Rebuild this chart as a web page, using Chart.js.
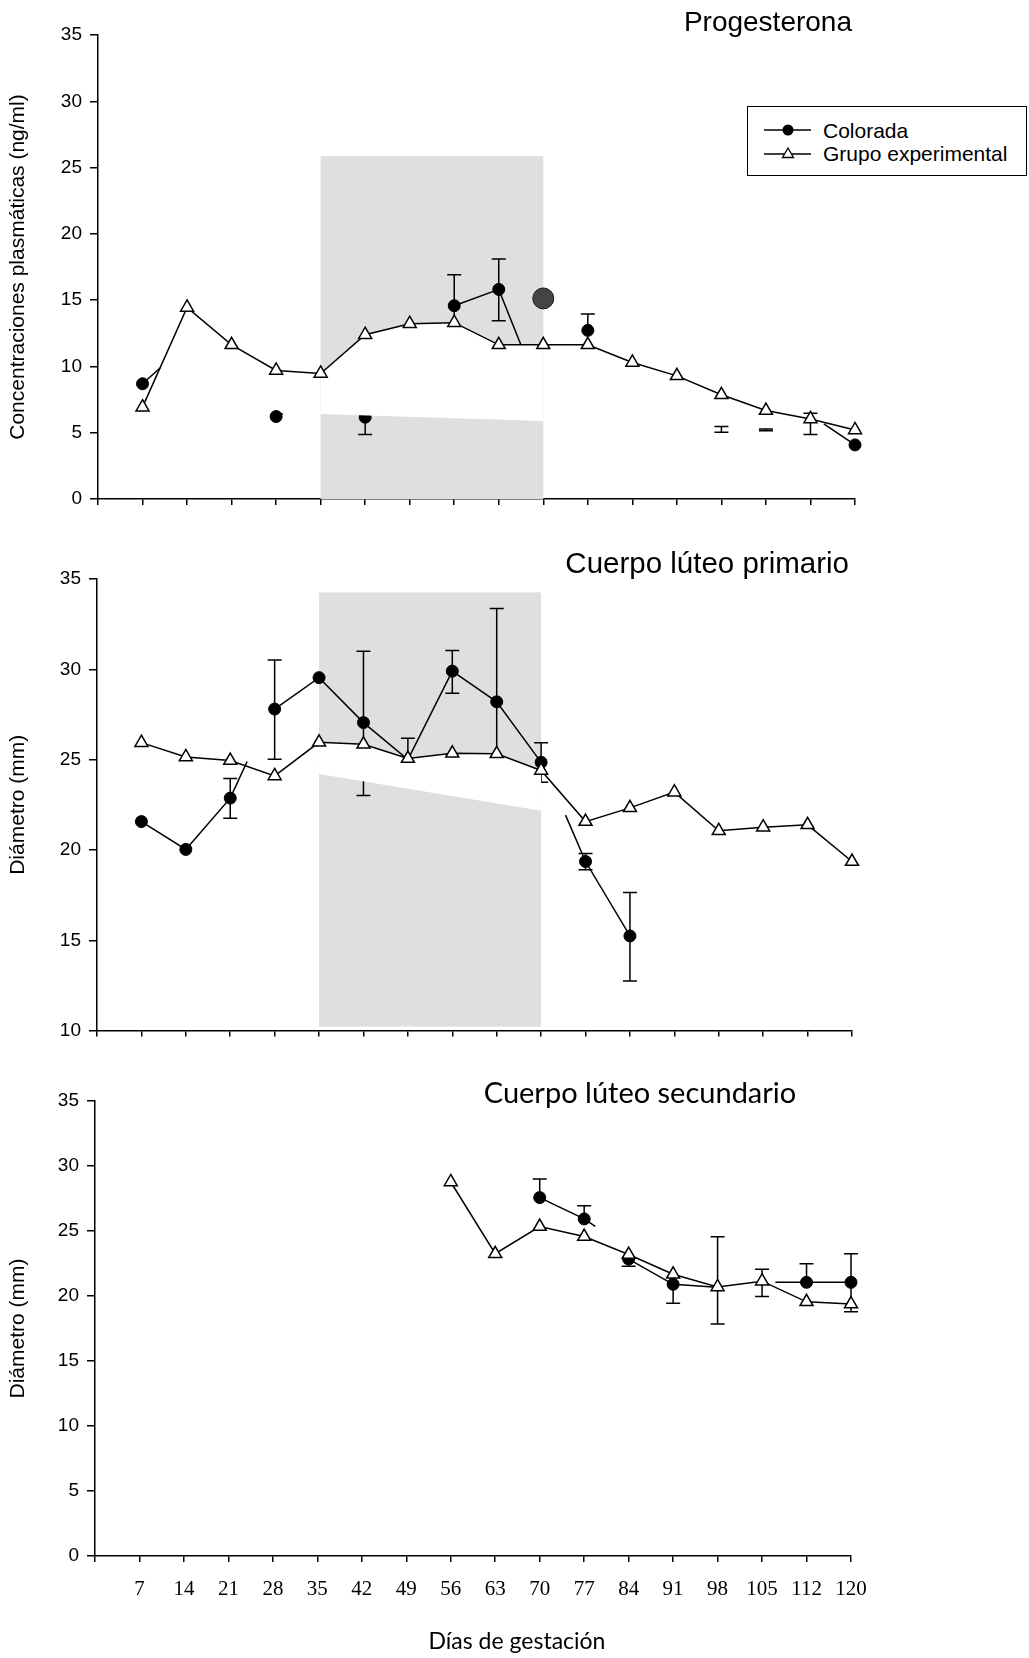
<!DOCTYPE html>
<html lang="es">
<head>
<meta charset="utf-8">
<title>Progesterona y cuerpo lúteo</title>
<script src="https://cdn.jsdelivr.net/npm/chart.js@4.4.1/dist/chart.umd.min.js"></script>
<style>
  body { margin: 0; background: #fff; }
  #hoja { position: relative; width: 1029px; height: 1658px; overflow: hidden; font-family: "Liberation Sans", Arial, sans-serif; color: #000; }
  #hoja canvas { position: absolute; left: 0; }
  .titulo { position: absolute; white-space: nowrap; line-height: 1; }
  #leyenda { position: absolute; left: 747px; top: 106px; width: 280px; height: 70px; box-sizing: border-box; border: 1.5px solid #000; background: #fff; font-size: 21px; }
  #leyenda svg { position: absolute; left: 15px; }
  #leyenda span { position: absolute; left: 75px; line-height: 1; white-space: nowrap; }
</style>
</head>
<body>
<div id="hoja">
  <canvas id="p1" width="1029" height="530" style="top:0"></canvas>
  <canvas id="p2" width="1029" height="520" style="top:530px"></canvas>
  <canvas id="p3" width="1029" height="608" style="top:1050px"></canvas>

  <div class="titulo" style="right:177px; top:8px; font-size:28px;">Progesterona</div>
  <div class="titulo" style="right:180px; top:548px; font-size:29.5px;">Cuerpo lúteo primario</div>
  <div class="titulo" style="left:640px; top:1077px; font-size:29px; font-family:Lato, sans-serif; transform:translateX(-50%);">Cuerpo lúteo secundario</div>
  <div class="titulo" style="left:517px; top:1629px; font-size:23px; font-family:Lato, sans-serif; transform:translateX(-50%);">Días de gestación</div>

  <div id="leyenda">
    <svg width="50" height="14" style="top:16px"><line x1="1" y1="7" x2="48" y2="7" stroke="#000" stroke-width="1.5"/><circle cx="25" cy="7" r="5.5" fill="#000"/></svg>
    <span style="top:13px">Colorada</span>
    <svg width="50" height="14" style="top:39px"><line x1="1" y1="8" x2="48" y2="8" stroke="#000" stroke-width="1.5"/><polygon points="25,2 30.5,11.5 19.5,11.5" fill="#fff" stroke="#000" stroke-width="1.3"/></svg>
    <span style="top:36px">Grupo experimental</span>
  </div>
</div>

<script>
// días de gestación (posición 1..17 en el eje)
const dias = [7, 14, 21, 28, 35, 42, 49, 56, 63, 70, 77, 84, 91, 98, 105, 112, 120];

// --- Progesterona (ng/ml)
const progExperimental = [6.93, 14.45, 11.63, 9.7, 9.47, 12.39, 13.22, 13.3, 11.63, 11.63, 11.63, 10.3, 9.29, 7.86, 6.67, 6.04, 5.21];
const progExpErrBajo   = [null, null, null, null, null, null, null, null, null, null, null, null, null, null, null, 4.86, null];
const progExpErrAlto   = [null, null, null, null, null, null, null, null, null, null, null, null, null, null, null, 6.47, null];
const progColorada     = [8.69, null, null, 6.22, null, 6.17, null, 14.58, 15.81, null, 12.72, null, null, null, null, null, 4.08];
const progColErrBajo   = [null, null, null, null, null, 4.86, null, 12.2, 13.45, null, null, null, null, 5.04, 5.15, null, null];
const progColErrAlto   = [null, null, null, null, null, 7.3, null, 16.92, 18.1, null, 13.95, null, null, 5.46, 5.28, null, null];
const progColTrazo     = [[1, 8.69], [1.4, 9.9], null, [4, 6.22], [4.15, 6.45], null, [8, 14.58], [9, 15.81], [9.9, 8.24], null, [16.3, 5.67], [17, 4.08]];
const progDia70        = [[10, 15.13]];

// --- Cuerpo lúteo primario (mm)
const primExperimental = [25.94, 25.15, 24.95, 24.1, 25.96, 25.85, 25.06, 25.35, 25.32, 24.4, 21.57, 22.33, 23.2, 21.06, 21.26, 21.39, 19.36];
const primColorada     = [21.57, 20.03, 22.87, 27.8, 29.54, 27.05, null, 29.9, 28.2, 24.85, 19.36, 15.24, null, null, null, null, null];
const primColErrBajo   = [null, null, 21.75, 25.02, null, 23.02, 23.85, 28.67, 23.05, 23.75, 18.91, 12.75, null, null, null, null, null];
const primColErrAlto   = [null, null, 23.95, 30.52, null, 31.0, 26.18, 31.04, 33.36, 25.94, 19.8, 17.65, null, null, null, null, null];
const primColTrazo     = [[1, 21.57], [2, 20.03], [3, 22.87], [3.38, 24.9], null, [4, 27.8], [5, 29.54], [6, 27.05], [7, 25.0], [8, 29.9], [9, 28.2], [10, 24.85], null, [10.55, 21.93], [11, 19.36], [12, 15.24]];

// --- Cuerpo lúteo secundario (mm)
const secExperimental  = [null, null, null, null, null, null, null, 28.77, 23.25, 25.34, 24.57, 23.19, 21.67, 20.7, 21.14, 19.55, 19.38];
const secColorada      = [null, null, null, null, null, null, null, null, null, 27.57, 25.93, 22.84, 20.9, null, null, 21.05, 21.05];
const secColErrBajo    = [null, null, null, null, null, null, null, null, null, null, null, 22.28, 19.44, 17.85, 19.96, null, 18.79];
const secColErrAlto    = [null, null, null, null, null, null, null, null, null, 29.0, 26.95, null, null, 24.55, 22.05, 22.49, 23.25];
const secColTrazo      = [[10, 27.57], [11, 25.93], [11.25, 25.35], null, [12, 22.84], [13, 20.9], [13.9, 20.7], null, [15.3, 21.05], [16, 21.05], [17, 21.05]];

// zona sombreada: días 35 a 70
const progSombra = { desde: 5, hasta: 10, arriba: 25.86, abajo: 0, bandaBaja: [6.42, 5.89] };
const primSombra = { desde: 5, hasta: 10, arriba: 34.26, abajo: 10.22, bandaBaja: [24.21, 22.17] };

const serie = vals => vals.map((v, i) => ({ x: i + 1, y: v }));
const trazo = arr => arr.map((p, k) => p ? { x: p[0], y: p[1] } : { x: arr[k - 1][0], y: null });

// dibuja la zona gris, el recorte blanco bajo la línea experimental y las barras de error
const sombra = {
  id: 'sombra',
  beforeDatasetsDraw(chart, args, opts) {
    if (opts.desde == null) return;
    const { ctx, scales: { x, y } } = chart;
    const x0 = x.getPixelForValue(opts.desde), x1 = x.getPixelForValue(opts.hasta);
    const y0 = y.getPixelForValue(opts.arriba), y1 = y.getPixelForValue(opts.abajo);
    ctx.save();
    ctx.fillStyle = '#dfdfdf';
    ctx.fillRect(x0, y0, x1 - x0, y1 - y0);
    ctx.restore();
  },
  beforeDatasetDraw(chart, args, opts) {
    const ds = chart.data.datasets[args.index];
    const { ctx, scales: { x, y } } = chart;
    ctx.save();
    if (ds.mascara && opts.desde != null) {
      const pts = ds.data.filter(p => p.y != null && p.x >= opts.desde && p.x <= opts.hasta);
      ctx.fillStyle = '#fff';
      ctx.beginPath();
      pts.forEach((p, k) => {
        const px = x.getPixelForValue(p.x), py = y.getPixelForValue(p.y);
        k ? ctx.lineTo(px, py) : ctx.moveTo(px, py);
      });
      ctx.lineTo(x.getPixelForValue(opts.hasta), y.getPixelForValue(opts.bandaBaja[1]));
      ctx.lineTo(x.getPixelForValue(opts.desde), y.getPixelForValue(opts.bandaBaja[0]));
      ctx.closePath();
      ctx.fill();
    }
    if (ds.errBajo) {
      ctx.strokeStyle = '#000';
      ctx.lineWidth = 1.5;
      ds.centro.forEach((c, i) => {
        const lo = ds.errBajo[i] ?? c, hi = ds.errAlto[i] ?? c;
        if (lo == null || hi == null || lo === hi) return;
        const px = x.getPixelForValue(i + 1);
        const pl = y.getPixelForValue(lo), ph = y.getPixelForValue(hi);
        ctx.beginPath();
        ctx.moveTo(px, pl); ctx.lineTo(px, ph);
        if (c == null || c - lo > 0.3) { ctx.moveTo(px - 7, pl); ctx.lineTo(px + 7, pl); }
        if (c == null || hi - c > 0.3) { ctx.moveTo(px - 7, ph); ctx.lineTo(px + 7, ph); }
        ctx.stroke();
      });
    }
    ctx.restore();
  }
};

function panel(id, o) {
  const datasets = [
    {
      label: 'Grupo experimental', data: serie(o.exp), order: 1, clip: false,
      borderColor: '#000', borderWidth: 1.5, tension: 0,
      pointStyle: 'triangle', pointRadius: 7.5, pointBackgroundColor: '#fff', pointBorderColor: '#000', pointBorderWidth: 1.5,
      mascara: true, centro: o.exp, errBajo: o.expBajo, errAlto: o.expAlto
    },
    {
      label: 'Colorada', data: serie(o.col), order: 2, clip: false, showLine: false,
      pointStyle: 'circle', pointRadius: 6, pointBackgroundColor: '#000', pointBorderColor: '#000', pointBorderWidth: 1,
      centro: o.col, errBajo: o.colBajo, errAlto: o.colAlto
    },
    {
      label: 'Colorada (trazo)', data: trazo(o.trazo), order: 3, clip: false,
      borderColor: '#000', borderWidth: 1.5, tension: 0, pointRadius: 0, spanGaps: false
    }
  ];
  if (o.especial) {
    datasets.push({
      label: 'Colorada día 70', data: trazo(o.especial), order: 2, clip: false, showLine: false,
      pointStyle: 'circle', pointRadius: 10.5, pointBackgroundColor: '#444', pointBorderColor: '#1a1a1a', pointBorderWidth: 1
    });
  }
  const eje = { color: '#000', lineWidth: 1.5, drawOnChartArea: false, drawTicks: true };
  new Chart(document.getElementById(id), {
    type: 'line',
    data: { datasets },
    plugins: [sombra],
    options: {
      responsive: false,
      animation: false,
      events: [],
      layout: { padding: { top: o.arriba, right: o.derecha, bottom: 0, left: 0 } },
      plugins: { legend: { display: false }, tooltip: { enabled: false }, sombra: o.sombra || {} },
      scales: {
        x: {
          type: 'linear', min: 0, max: 17,
          afterFit: s => { s.height = o.altoX; },
          ticks: {
            stepSize: 1, autoSkip: false, maxRotation: 0, padding: 15, color: '#000',
            font: { family: 'Liberation Serif', size: 21 },
            callback: v => (o.etiquetas && v >= 1) ? String(dias[v - 1]) : ''
          },
          grid: { ...eje, tickLength: 6 },
          border: { display: true, color: '#000', width: 1.5 }
        },
        y: {
          min: o.yMin, max: 35,
          afterFit: s => { s.width = o.anchoY; },
          ticks: { stepSize: 5, padding: 8, color: '#000', font: { family: 'Liberation Sans', size: 19 } },
          grid: { ...eje, tickLength: 8 },
          border: { display: true, color: '#000', width: 1.5 },
          title: {
            display: true, text: o.tituloY, color: '#000',
            font: { family: 'Liberation Sans', size: 21 }, padding: { top: 6, bottom: 0 }
          }
        }
      }
    }
  });
}

panel('p1', {
  exp: progExperimental, expBajo: progExpErrBajo, expAlto: progExpErrAlto,
  col: progColorada, colBajo: progColErrBajo, colAlto: progColErrAlto, trazo: progColTrazo,
  especial: progDia70, sombra: progSombra,
  yMin: 0, tituloY: 'Concentraciones plasmáticas (ng/ml)',
  arriba: 35, derecha: 174, anchoY: 98, altoX: 31, etiquetas: false
});

panel('p2', {
  exp: primExperimental,
  col: primColorada, colBajo: primColErrBajo, colAlto: primColErrAlto, trazo: primColTrazo,
  sombra: primSombra,
  yMin: 10, tituloY: 'Diámetro (mm)',
  arriba: 49, derecha: 177, anchoY: 97, altoX: 12, etiquetas: false
});

panel('p3', {
  exp: secExperimental,
  col: secColorada, colBajo: secColErrBajo, colAlto: secColErrAlto, trazo: secColTrazo,
  yMin: 0, tituloY: 'Diámetro (mm)',
  arriba: 51, derecha: 178, anchoY: 95, altoX: 102, etiquetas: true
});
</script>
</body>
</html>
